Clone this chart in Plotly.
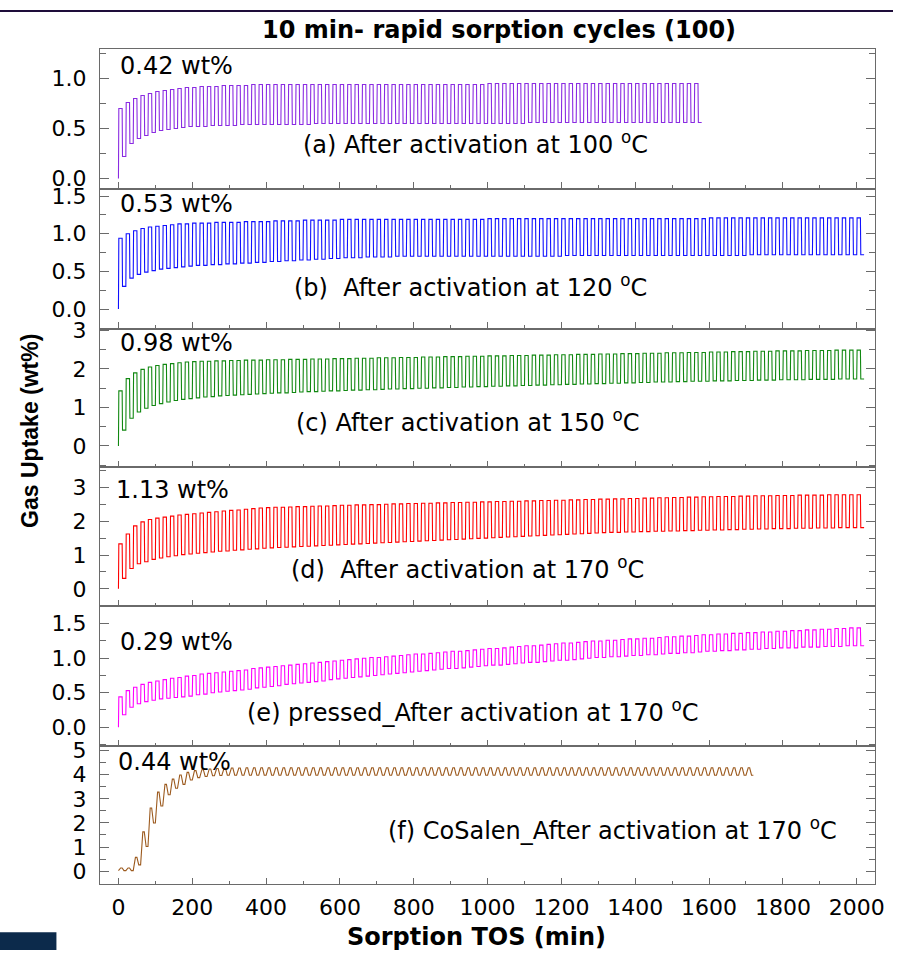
import plotly.graph_objects as go

# Sorption schedule: every cycle is 10 min adsorption followed by 10 min desorption
CYCLE_MIN = 20
HALF_MIN = 10

# Per-cycle maximum (end of adsorption) and minimum (end of desorption) uptake, wt%
PEAK_A = [0.70, 0.76, 0.80, 0.83, 0.85, 0.87, 0.88, 0.89, 0.90, 0.91,
          0.91, 0.92, 0.92, 0.92, 0.93, 0.93, 0.93, 0.93, 0.94, 0.94,
          0.94, 0.94, 0.94, 0.94, 0.94, 0.94, 0.94, 0.94, 0.94, 0.94,
          0.94, 0.94, 0.94, 0.94, 0.94, 0.94, 0.94, 0.94, 0.94, 0.94,
          0.94, 0.94, 0.94, 0.94, 0.94, 0.94, 0.94, 0.94, 0.94, 0.94,
          0.95, 0.95, 0.95, 0.95, 0.95, 0.95, 0.95, 0.95, 0.95, 0.95,
          0.95, 0.95, 0.95, 0.95, 0.95, 0.95, 0.95, 0.95, 0.95, 0.95,
          0.95, 0.95, 0.95, 0.95, 0.95, 0.95, 0.95, 0.95, 0.95]
TROUGH_A = [0.22, 0.35, 0.40, 0.43, 0.46, 0.48, 0.49, 0.50, 0.51, 0.52,
            0.52, 0.52, 0.53, 0.53, 0.53, 0.53, 0.54, 0.54, 0.54, 0.54,
            0.54, 0.54, 0.54, 0.54, 0.54, 0.54, 0.55, 0.55, 0.55, 0.55,
            0.55, 0.55, 0.55, 0.55, 0.55, 0.55, 0.55, 0.55, 0.55, 0.55,
            0.55, 0.55, 0.55, 0.55, 0.55, 0.55, 0.55, 0.55, 0.55, 0.55,
            0.55, 0.55, 0.55, 0.55, 0.55, 0.56, 0.56, 0.56, 0.56, 0.56,
            0.56, 0.56, 0.56, 0.56, 0.56, 0.56, 0.56, 0.56, 0.56, 0.56,
            0.56, 0.56, 0.56, 0.56, 0.56, 0.56, 0.56, 0.56, 0.56]

PEAK_B = [0.94, 1.00, 1.04, 1.07, 1.09, 1.10, 1.11, 1.12, 1.13, 1.13,
          1.14, 1.14, 1.14, 1.15, 1.15, 1.15, 1.15, 1.16, 1.16, 1.16,
          1.16, 1.17, 1.17, 1.17, 1.17, 1.18, 1.18, 1.18, 1.18, 1.18,
          1.19, 1.19, 1.19, 1.19, 1.19, 1.19, 1.19, 1.19, 1.19, 1.19,
          1.19, 1.19, 1.19, 1.19, 1.19, 1.19, 1.19, 1.19, 1.19, 1.19,
          1.20, 1.20, 1.20, 1.20, 1.20, 1.20, 1.20, 1.20, 1.20, 1.20,
          1.20, 1.20, 1.20, 1.20, 1.20, 1.20, 1.20, 1.20, 1.20, 1.20,
          1.20, 1.20, 1.20, 1.20, 1.20, 1.20, 1.20, 1.20, 1.20, 1.20,
          1.21, 1.21, 1.21, 1.21, 1.21, 1.21, 1.21, 1.21, 1.21, 1.21,
          1.21, 1.21, 1.21, 1.21, 1.21, 1.21, 1.21, 1.21, 1.21, 1.21,
          1.21]
TROUGH_B = [0.30, 0.41, 0.46, 0.49, 0.51, 0.53, 0.54, 0.55, 0.56, 0.57,
            0.58, 0.58, 0.59, 0.59, 0.60, 0.60, 0.61, 0.61, 0.62, 0.62,
            0.63, 0.63, 0.64, 0.64, 0.65, 0.65, 0.66, 0.66, 0.67, 0.67,
            0.68, 0.68, 0.68, 0.69, 0.69, 0.69, 0.69, 0.70, 0.70, 0.70,
            0.70, 0.70, 0.70, 0.70, 0.70, 0.70, 0.70, 0.70, 0.70, 0.70,
            0.70, 0.70, 0.70, 0.70, 0.70, 0.70, 0.70, 0.70, 0.70, 0.70,
            0.71, 0.71, 0.71, 0.71, 0.71, 0.71, 0.71, 0.71, 0.71, 0.71,
            0.71, 0.71, 0.71, 0.71, 0.71, 0.71, 0.71, 0.71, 0.71, 0.71,
            0.71, 0.71, 0.71, 0.71, 0.71, 0.72, 0.72, 0.72, 0.72, 0.72,
            0.72, 0.72, 0.72, 0.72, 0.72, 0.72, 0.72, 0.72, 0.72, 0.72,
            0.72]

PEAK_C = [1.43, 1.75, 1.90, 1.99, 2.05, 2.09, 2.12, 2.14, 2.16, 2.18,
          2.19, 2.20, 2.20, 2.21, 2.21, 2.22, 2.22, 2.23, 2.23, 2.23,
          2.24, 2.24, 2.24, 2.25, 2.25, 2.25, 2.26, 2.26, 2.26, 2.27,
          2.27, 2.27, 2.28, 2.28, 2.28, 2.29, 2.29, 2.29, 2.30, 2.30,
          2.30, 2.31, 2.31, 2.31, 2.32, 2.32, 2.32, 2.33, 2.33, 2.33,
          2.34, 2.34, 2.34, 2.35, 2.35, 2.35, 2.36, 2.36, 2.36, 2.37,
          2.37, 2.37, 2.38, 2.38, 2.38, 2.39, 2.39, 2.39, 2.40, 2.40,
          2.40, 2.41, 2.41, 2.41, 2.42, 2.42, 2.42, 2.43, 2.43, 2.43,
          2.44, 2.44, 2.44, 2.45, 2.45, 2.45, 2.46, 2.46, 2.46, 2.47,
          2.47, 2.47, 2.47, 2.48, 2.48, 2.48, 2.48, 2.49, 2.49, 2.49,
          2.49]
TROUGH_C = [0.41, 0.72, 0.88, 0.98, 1.05, 1.10, 1.14, 1.18, 1.21, 1.23,
            1.25, 1.27, 1.28, 1.30, 1.31, 1.32, 1.33, 1.34, 1.35, 1.36,
            1.37, 1.38, 1.38, 1.39, 1.40, 1.41, 1.41, 1.42, 1.43, 1.43,
            1.44, 1.45, 1.45, 1.46, 1.46, 1.47, 1.48, 1.48, 1.49, 1.49,
            1.50, 1.50, 1.51, 1.51, 1.52, 1.52, 1.53, 1.53, 1.54, 1.54,
            1.55, 1.55, 1.56, 1.56, 1.57, 1.57, 1.58, 1.58, 1.59, 1.59,
            1.60, 1.60, 1.61, 1.61, 1.62, 1.62, 1.63, 1.63, 1.64, 1.64,
            1.65, 1.65, 1.66, 1.66, 1.66, 1.67, 1.67, 1.68, 1.68, 1.68,
            1.69, 1.69, 1.69, 1.70, 1.70, 1.70, 1.71, 1.71, 1.71, 1.72,
            1.72, 1.72, 1.72, 1.73, 1.73, 1.73, 1.73, 1.74, 1.74, 1.74,
            1.74]

PEAK_D = [1.33, 1.62, 1.86, 1.98, 2.05, 2.09, 2.12, 2.15, 2.18, 2.20,
          2.22, 2.24, 2.26, 2.28, 2.30, 2.32, 2.33, 2.35, 2.37, 2.39,
          2.40, 2.41, 2.41, 2.42, 2.43, 2.43, 2.44, 2.45, 2.45, 2.46,
          2.47, 2.47, 2.48, 2.48, 2.49, 2.49, 2.50, 2.51, 2.51, 2.52,
          2.52, 2.53, 2.53, 2.54, 2.54, 2.55, 2.55, 2.56, 2.56, 2.57,
          2.57, 2.58, 2.58, 2.59, 2.59, 2.60, 2.60, 2.61, 2.61, 2.62,
          2.62, 2.63, 2.63, 2.64, 2.64, 2.65, 2.65, 2.66, 2.66, 2.67,
          2.67, 2.68, 2.68, 2.69, 2.69, 2.70, 2.70, 2.71, 2.71, 2.72,
          2.72, 2.73, 2.73, 2.73, 2.74, 2.74, 2.75, 2.75, 2.75, 2.76,
          2.76, 2.76, 2.77, 2.77, 2.77, 2.77, 2.78, 2.78, 2.78, 2.78,
          2.78]
TROUGH_D = [0.31, 0.60, 0.74, 0.80, 0.87, 0.91, 0.95, 0.98, 1.01, 1.03,
            1.05, 1.07, 1.09, 1.11, 1.12, 1.14, 1.15, 1.17, 1.18, 1.20,
            1.21, 1.22, 1.23, 1.24, 1.25, 1.26, 1.27, 1.28, 1.29, 1.30,
            1.31, 1.32, 1.33, 1.34, 1.35, 1.36, 1.37, 1.38, 1.39, 1.40,
            1.41, 1.42, 1.43, 1.44, 1.45, 1.46, 1.47, 1.48, 1.49, 1.50,
            1.51, 1.52, 1.53, 1.54, 1.55, 1.56, 1.57, 1.58, 1.59, 1.60,
            1.61, 1.62, 1.63, 1.64, 1.65, 1.66, 1.67, 1.67, 1.68, 1.68,
            1.69, 1.69, 1.70, 1.70, 1.71, 1.71, 1.72, 1.72, 1.73, 1.73,
            1.74, 1.74, 1.75, 1.75, 1.76, 1.76, 1.77, 1.77, 1.78, 1.78,
            1.78, 1.79, 1.79, 1.79, 1.80, 1.80, 1.80, 1.81, 1.81, 1.81,
            1.81]

PEAK_E = [0.44, 0.53, 0.58, 0.62, 0.65, 0.67, 0.69, 0.71, 0.72, 0.74,
          0.75, 0.77, 0.78, 0.79, 0.80, 0.81, 0.82, 0.83, 0.85, 0.86,
          0.87, 0.88, 0.89, 0.90, 0.91, 0.92, 0.93, 0.94, 0.95, 0.96,
          0.97, 0.98, 0.99, 1.00, 1.01, 1.01, 1.02, 1.03, 1.04, 1.05,
          1.06, 1.06, 1.07, 1.08, 1.09, 1.10, 1.10, 1.11, 1.12, 1.13,
          1.14, 1.14, 1.15, 1.16, 1.17, 1.18, 1.18, 1.19, 1.20, 1.21,
          1.22, 1.22, 1.23, 1.24, 1.25, 1.25, 1.26, 1.26, 1.27, 1.28,
          1.28, 1.29, 1.29, 1.30, 1.31, 1.31, 1.32, 1.32, 1.33, 1.34,
          1.34, 1.35, 1.35, 1.36, 1.36, 1.37, 1.37, 1.38, 1.38, 1.39,
          1.39, 1.40, 1.40, 1.41, 1.41, 1.42, 1.42, 1.43, 1.43, 1.44,
          1.44]
TROUGH_E = [0.18, 0.29, 0.34, 0.37, 0.39, 0.41, 0.42, 0.43, 0.44, 0.45,
            0.47, 0.48, 0.50, 0.51, 0.52, 0.53, 0.54, 0.55, 0.57, 0.58,
            0.59, 0.60, 0.62, 0.63, 0.64, 0.65, 0.66, 0.67, 0.69, 0.70,
            0.71, 0.72, 0.73, 0.74, 0.75, 0.76, 0.77, 0.78, 0.79, 0.80,
            0.81, 0.82, 0.83, 0.84, 0.85, 0.85, 0.86, 0.87, 0.88, 0.89,
            0.90, 0.90, 0.91, 0.92, 0.93, 0.94, 0.94, 0.95, 0.96, 0.97,
            0.97, 0.98, 0.99, 1.00, 1.01, 1.01, 1.02, 1.02, 1.03, 1.04,
            1.04, 1.05, 1.05, 1.06, 1.07, 1.07, 1.08, 1.08, 1.09, 1.10,
            1.10, 1.11, 1.11, 1.12, 1.12, 1.13, 1.13, 1.14, 1.14, 1.15,
            1.15, 1.15, 1.16, 1.16, 1.16, 1.17, 1.17, 1.17, 1.18, 1.18,
            1.18]

PEAK_F = [0.13, 0.13, 0.57, 1.63, 2.62, 3.28, 3.60, 3.82, 3.99, 4.10,
          4.17, 4.21, 4.24, 4.26, 4.27, 4.28, 4.28, 4.29, 4.29, 4.29,
          4.29, 4.29, 4.29, 4.29, 4.29, 4.29, 4.29, 4.29, 4.29, 4.29,
          4.29, 4.29, 4.29, 4.29, 4.29, 4.29, 4.29, 4.29, 4.29, 4.29,
          4.29, 4.29, 4.29, 4.29, 4.29, 4.29, 4.29, 4.29, 4.29, 4.29,
          4.29, 4.29, 4.29, 4.29, 4.29, 4.29, 4.29, 4.29, 4.29, 4.29,
          4.29, 4.29, 4.29, 4.29, 4.29, 4.29, 4.29, 4.29, 4.29, 4.29,
          4.29, 4.29, 4.29, 4.29, 4.29, 4.29, 4.29, 4.29, 4.29, 4.29,
          4.29, 4.29, 4.29, 4.29, 4.29, 4.29]
TROUGH_F = [0.02, 0.02, 0.26, 1.02, 2.00, 2.70, 3.17, 3.44, 3.60, 3.78,
            3.88, 3.93, 3.96, 3.97, 3.98, 3.98, 3.98, 3.98, 3.98, 3.98,
            3.98, 3.98, 3.98, 3.98, 3.98, 3.98, 3.98, 3.98, 3.98, 3.98,
            3.98, 3.98, 3.98, 3.98, 3.98, 3.98, 3.98, 3.98, 3.98, 3.98,
            3.98, 3.98, 3.98, 3.98, 3.98, 3.98, 3.98, 3.98, 3.98, 3.98,
            3.98, 3.98, 3.98, 3.98, 3.98, 3.98, 3.98, 3.98, 3.98, 3.98,
            3.98, 3.98, 3.98, 3.98, 3.98, 3.98, 3.98, 3.98, 3.98, 3.98,
            3.98, 3.98, 3.98, 3.98, 3.98, 3.98, 3.98, 3.98, 3.98, 3.98,
            3.98, 3.98, 3.98, 3.98, 3.98, 3.98]

START_UPTAKE = [0.0, 0.0, 0.0, 0.0, 0.0, 0.02]
UPTAKE_TEXT = ["0.42 wt%", "0.53 wt%", "0.98 wt%", "1.13 wt%", "0.29 wt%", "0.44 wt%"]
PANEL_TEXT = [
    "(a) After activation at 100 <sup>o</sup>C",
    "(b)  After activation at 120 <sup>o</sup>C",
    "(c) After activation at 150 <sup>o</sup>C",
    "(d)  After activation at 170 <sup>o</sup>C",
    "(e) pressed_After activation at 170 <sup>o</sup>C",
    "(f) CoSalen_After activation at 170 <sup>o</sup>C",
]
X_TICKS = [0, 200, 400, 600, 800, 1000, 1200, 1400, 1600, 1800, 2000]

PEAKS = [PEAK_A, PEAK_B, PEAK_C, PEAK_D, PEAK_E, PEAK_F]
TROUGHS = [TROUGH_A, TROUGH_B, TROUGH_C, TROUGH_D, TROUGH_E, TROUGH_F]

# ---- styling / layout -------------------------------------------------------
W, H = 902, 953
COLORS = ["#8A2BE2", "#1010FF", "#118811", "#FF0000", "#FF00FF", "#9C5A1E"]
# rise / fall duration used to draw each switch (min)
EDGE = [(1.0, 1.0)] * 5 + [(6.0, 5.0)]
PANEL_TOP_PX = [40, 181, 323, 463, 604, 746]
PANEL_BOT_PX = [181, 323, 463, 604, 746, 886]
Y_RANGES = [(-0.10, 1.29), (-0.26, 1.60), (-0.54, 3.05),
            (-0.50, 3.61), (-0.27, 1.76), (-0.53, 5.20)]
Y_DTICK = [0.5, 0.5, 1, 1, 0.5, 1]
Y_FMT = [".1f", ".1f", "d", "d", ".1f", "d"]
UPTAKE_POS = [(119, 57), (119, 197), (119, 338), (115, 487), (119, 641), (117, 762)]
PANEL_POS = [(480, 135), (475, 280), (473, 417), (472, 566), (477, 711), (619, 830)]
X_LEFT, X_RIGHT = 101, 884
AXIS_COLOR = "#6a6a6a"
TICK_FONT = dict(family="DejaVu Sans", size=22, color="black")
NOTE_FONT = dict(family="DejaVu Sans", size=24, color="black")


def fx(px):
    return px / W


def fy(px):
    return 1 - px / H


def cycle_path(peaks, troughs, start, rise, fall):
    xs, ys = [0.0], [start]
    for i, (hi, lo) in enumerate(zip(peaks, troughs)):
        t0 = i * CYCLE_MIN
        xs += [t0 + rise, t0 + HALF_MIN, t0 + HALF_MIN + fall, t0 + CYCLE_MIN]
        ys += [hi, hi, lo, lo]
    return xs, ys


fig = go.Figure()
layout = dict(
    width=W, height=H,
    margin=dict(l=0, r=0, t=0, b=0),
    paper_bgcolor="white", plot_bgcolor="white",
    showlegend=False,
)

for k in range(6):
    n = k + 1
    sfx = "" if n == 1 else str(n)
    xs, ys = cycle_path(PEAKS[k], TROUGHS[k], START_UPTAKE[k], *EDGE[k])
    fig.add_trace(go.Scatter(
        x=xs, y=ys, mode="lines",
        line=dict(color=COLORS[k], width=1.1),
        xaxis="x" + sfx, yaxis="y" + sfx, hoverinfo="skip",
    ))
    layout["xaxis" + sfx] = dict(
        domain=[fx(X_LEFT), fx(X_RIGHT)], anchor="y" + sfx,
        range=[-50, 2050], tickvals=X_TICKS,
        ticks="inside", ticklen=6, tickwidth=1.2, tickcolor=AXIS_COLOR,
        minor=dict(dtick=100, tick0=0, ticks="inside", ticklen=3,
                   tickwidth=1.2, tickcolor=AXIS_COLOR),
        showticklabels=(n == 6), tickfont=TICK_FONT, ticklabelstandoff=4,
        showline=True, linecolor=AXIS_COLOR, linewidth=1.3, mirror=True,
        showgrid=False, zeroline=False,
    )
    layout["yaxis" + sfx] = dict(
        domain=[fy(PANEL_BOT_PX[k]), fy(PANEL_TOP_PX[k])], anchor="x" + sfx,
        range=list(Y_RANGES[k]), tick0=0, dtick=Y_DTICK[k], tickformat=Y_FMT[k],
        ticks="inside", ticklen=9, tickwidth=1.2, tickcolor=AXIS_COLOR,
        minor=dict(dtick=Y_DTICK[k] / 2, tick0=0, ticks="inside", ticklen=6,
                   tickwidth=1.2, tickcolor=AXIS_COLOR),
        tickfont=TICK_FONT, ticklabelstandoff=8,
        showline=True, linecolor=AXIS_COLOR, linewidth=1.3, mirror="ticks",
        showgrid=False, zeroline=False,
    )

annotations = []
for k in range(6):
    ux, uy = UPTAKE_POS[k]
    annotations.append(dict(
        x=fx(ux), y=fy(uy), xref="paper", yref="paper", text=UPTAKE_TEXT[k],
        showarrow=False, xanchor="left", yanchor="middle", font=NOTE_FONT,
    ))
    lx, ly = PANEL_POS[k]
    annotations.append(dict(
        x=fx(lx), y=fy(ly), xref="paper", yref="paper", text=PANEL_TEXT[k],
        showarrow=False, xanchor="center", yanchor="middle", font=NOTE_FONT,
    ))

annotations += [
    dict(x=fx(504), y=fy(20), xref="paper", yref="paper",
         text="10 min- rapid sorption cycles (100)", showarrow=False,
         xanchor="center", yanchor="middle",
         font=dict(family="DejaVu Sans", size=24, color="black", weight="bold")),
    dict(x=fx(481), y=fy(940), xref="paper", yref="paper",
         text="Sorption TOS (min)", showarrow=False,
         xanchor="center", yanchor="middle",
         font=dict(family="DejaVu Sans", size=24, color="black", weight="bold")),
    dict(x=fx(30), y=fy(427), xref="paper", yref="paper",
         text="Gas Uptake (wt%)", showarrow=False, textangle=-90,
         xanchor="center", yanchor="middle",
         font=dict(family="Liberation Sans", size=23, color="black", weight="bold")),
]
layout["annotations"] = annotations

layout["shapes"] = [
    dict(type="rect", xref="paper", yref="paper", x0=0, x1=1,
         y0=fy(2), y1=1, fillcolor="#1e0d3a", line=dict(width=0), layer="above"),
    dict(type="rect", xref="paper", yref="paper", x0=0, x1=fx(57),
         y0=0, y1=fy(935), fillcolor="#0c2a4b", line=dict(width=0), layer="above"),
]

fig.update_layout(**layout)
fig.write_html("out.html")
